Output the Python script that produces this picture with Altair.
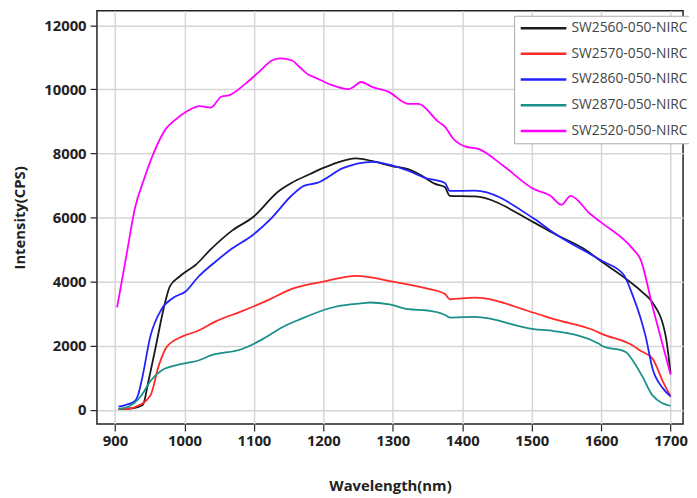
import altair as alt
import pandas as pd

series_names = ["SW2560-050-NIRC", "SW2570-050-NIRC", "SW2860-050-NIRC",
                "SW2870-050-NIRC", "SW2520-050-NIRC"]
series_colors = ["#1a1a1a", "#ff2a2a", "#2222ff", "#1a9088", "#ff00ff"]

x_ticks = [900, 1000, 1100, 1200, 1300, 1400, 1500, 1600, 1700]
y_ticks = [0, 2000, 4000, 6000, 8000, 10000, 12000]

sw2560_nm = [905, 925, 940, 948, 958, 972, 979, 993, 1002, 1016, 1037, 1069, 1098,
             1136, 1154, 1181, 1200, 1214, 1247, 1271, 1300, 1322, 1342, 1361,
             1375, 1382, 1418, 1503, 1532, 1574, 1601, 1632, 1660, 1674, 1693, 1700]
sw2560_cps = [30, 50, 150, 880, 1900, 3340, 3850, 4160, 4310, 4520, 4990, 5600, 6000,
              6830, 7080, 7360, 7550, 7670, 7850, 7760, 7600, 7510, 7300, 7050,
              6950, 6680, 6660, 5850, 5500, 5040, 4620, 4150, 3660, 3350, 2300, 1130]

sw2570_nm = [905, 920, 928, 951, 963, 974, 998, 1019, 1045, 1083, 1122, 1152, 1200,
             1247, 1300, 1350, 1371, 1376, 1382, 1418, 1503, 1532, 1592, 1601, 1646,
             1656, 1674, 1689, 1700]
sw2570_cps = [30, 30, 80, 450, 1380, 1950, 2300, 2460, 2760, 3080, 3440, 3750, 4000,
              4180, 4000, 3780, 3660, 3600, 3450, 3500, 3030, 2830, 2460, 2370, 2000,
              1850, 1600, 880, 420]

sw2860_nm = [905, 915, 928, 933, 939, 951, 967, 984, 1002, 1019, 1045, 1069, 1098,
             1126, 1154, 1172, 1191, 1229, 1271, 1300, 1322, 1346, 1375, 1382, 1418,
             1503, 1532, 1601, 1632, 1646, 1656, 1664, 1674, 1689, 1700]
sw2860_cps = [100, 150, 260, 450, 980, 2300, 3140, 3500, 3700, 4130, 4630, 5040, 5450,
              6000, 6680, 6990, 7080, 7550, 7740, 7620, 7460, 7240, 7080, 6830, 6840,
              5970, 5520, 4650, 4230, 3540, 2920, 2300, 1290, 670, 420]

sw2870_nm = [905, 917, 938, 951, 967, 998, 1020, 1037, 1083, 1112, 1141, 1167, 1209,
             1220, 1258, 1267, 1295, 1322, 1350, 1371, 1376, 1382, 1418, 1503, 1532,
             1597, 1601, 1636, 1642, 1660, 1674, 1700]
sw2870_cps = [30, 80, 450, 900, 1230, 1440, 1540, 1690, 1900, 2200, 2580, 2830, 3170,
              3230, 3330, 3350, 3290, 3140, 3100, 3000, 2950, 2880, 2900, 2520, 2460,
              2060, 2000, 1800, 1650, 1020, 450, 120]

sw2520_nm = [903, 917, 929, 941, 955, 974, 984, 1003, 1022, 1038, 1053, 1065, 1088,
             1107, 1126, 1138, 1155, 1166, 1180, 1185, 1209, 1236, 1243, 1254, 1271,
             1294, 1322, 1337, 1365, 1375, 1387, 1404, 1425, 1460, 1503, 1527, 1543,
             1556, 1584, 1600, 1645, 1657, 1674, 1700]
sw2520_cps = [3200, 4890, 6320, 7150, 7980, 8790, 9000, 9310, 9480, 9430, 9770, 9820,
              10180, 10540, 10900, 10970, 10900, 10690, 10440, 10400, 10160, 10010,
              10070, 10230, 10070, 9920, 9550, 9550, 9000, 8840, 8460, 8220, 8130, 7600,
              6890, 6680, 6400, 6680, 6120, 5850, 5040, 4680, 3220, 1100]

all_nm = [sw2560_nm, sw2570_nm, sw2860_nm, sw2870_nm, sw2520_nm]
all_cps = [sw2560_cps, sw2570_cps, sw2860_cps, sw2870_cps, sw2520_cps]

rows = []
for name, xs, ys in zip(series_names, all_nm, all_cps):
    for xv, yv in zip(xs, ys):
        rows.append({"series": name, "nm": xv, "cps": yv})
df = pd.DataFrame(rows)

FONT = "Open Sans"

chart = alt.Chart(df).mark_line(strokeWidth=1.8, interpolate="monotone").encode(
    x=alt.X("nm:Q",
            scale=alt.Scale(domain=[874, 1718], nice=False, zero=False),
            axis=alt.Axis(values=x_ticks, format="d", title="Wavelength(nm)",
                          titlePadding=30, labelPadding=3)),
    y=alt.Y("cps:Q",
            scale=alt.Scale(domain=[-441, 12450], nice=False, zero=False),
            axis=alt.Axis(values=y_ticks, format="d", title="Intensity(CPS)",
                          titlePadding=16, labelPadding=4)),
    color=alt.Color("series:N",
                    scale=alt.Scale(domain=series_names, range=series_colors),
                    sort=series_names,
                    legend=alt.Legend(title=None, orient="none", legendX=422, legendY=5,
                                      symbolType="M-1,0H7", symbolSize=133,
                                      symbolStrokeWidth=2.5, labelOffset=38,
                                      labelFont=FONT, labelFontSize=14,
                                      labelColor="#444444", padding=5,
                                      strokeColor="#aaaaaa", fillColor="white",
                                      rowPadding=11, labelLimit=300)),
).properties(
    width=593, height=418,
    padding={"left": 90, "top": 0, "right": 6, "bottom": 72},
    autosize=alt.AutoSizeParams(type="none"),
).configure_view(
    stroke="#222222", strokeWidth=1.5
).configure_axis(
    grid=True, gridColor="#d6d6d6", gridWidth=1.5,
    domain=False, tickColor="#222222", tickSize=7, tickWidth=1.2,
    labelFont=FONT, labelFontSize=15, labelFontWeight="bold", labelColor="#222222",
    titleFont=FONT, titleFontSize=15, titleFontWeight="bold", titleColor="#222222",
)

chart.save("out.html", embed_options={"renderer": "svg", "actions": False})
